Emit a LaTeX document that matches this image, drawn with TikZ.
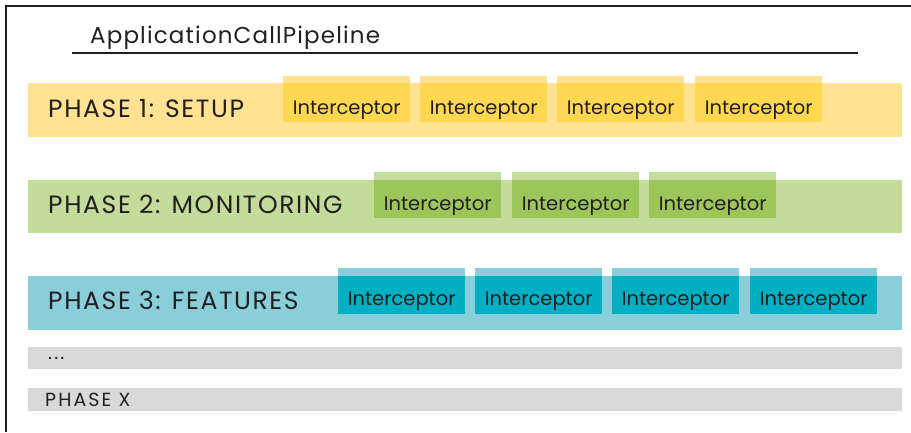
\documentclass[tikz,border=0pt]{standalone}
\usepackage{fontspec}
\setmainfont{Poppins}
\definecolor{ylight}{HTML}{FFE392}
\definecolor{ydark}{HTML}{FFD751}
\definecolor{glight}{HTML}{C4DC9B}
\definecolor{gdark}{HTML}{9CC65A}
\definecolor{tlight}{HTML}{89CED8}
\definecolor{tdark}{HTML}{00B0C2}
\definecolor{graybar}{HTML}{D9D9D9}
\definecolor{ink}{HTML}{231F20}
\tikzset{
  band/.style={draw=none, inner sep=0pt, anchor=north west, minimum width=874pt, minimum height=#1},
  ibox/.style={draw=none, inner sep=0pt, anchor=north west, minimum width=127pt, minimum height=46pt},
  phasetext/.style={anchor=base west, inner sep=0pt, text=ink, font=\fontsize{25}{28}\selectfont\addfontfeature{LetterSpace=6.5}},
  itext/.style={anchor=base, inner sep=0pt, text=ink, font=\fontsize{19.5}{23}\selectfont},
  smalltext/.style={anchor=base west, inner sep=0pt, text=ink, font=\fontsize{19}{22}\selectfont\addfontfeature{LetterSpace=11}},
}
\begin{document}
\begin{tikzpicture}[x=1pt,y=-1pt]
\useasboundingbox (0,0) rectangle (911,432);
% frame
\coordinate (fr1) at (911,6);
\coordinate (fr2) at (6,6);
\coordinate (fr3) at (6,432);
\draw[line width=2pt, ink] (fr1) -- (fr2) -- (fr3);
% title
\node[anchor=base west, inner sep=0pt, text=ink, font=\fontsize{23}{26}\selectfont\addfontfeature{LetterSpace=5}] (title) at (90,43) {ApplicationCallPipeline};
\coordinate (ul1) at (72,53);
\coordinate (ul2) at (858,53);
\draw[line width=2pt, ink] (ul1) -- (ul2);
% bands
\node[band=54pt, fill=ylight] (p1) at (28,83) {};
\node[band=53pt, fill=glight] (p2) at (28,180) {};
\node[band=54pt, fill=tlight] (p3) at (28,276) {};
\node[band=22pt, fill=graybar] (p4) at (28,347) {};
\node[band=23pt, fill=graybar] (p5) at (28,388) {};
% phase labels
\node[phasetext] (l1) at (48,117) {PHASE 1: SETUP};
\node[phasetext] (l2) at (48,213) {PHASE 2: MONITORING};
\node[phasetext] (l3) at (48,309) {PHASE 3: FEATURES};
\node[smalltext] (l4) at (48,359) {...};
\node[smalltext] (l5) at (45,406) {PHASE X};
% interceptors phase 1
\foreach \x [count=\i] in {283,420,557,695}{
  \node[ibox, fill=ylight] (a\i) at (\x,76) {};
  \fill[ydark] (a\i.south west) rectangle (a\i.east |- p1.north);
  \node[itext] (ta\i) at (a\i.center |- 0,114) {Interceptor};
}
% phase 2
\foreach \x [count=\i] in {374,512,649}{
  \node[ibox, fill=glight] (b\i) at (\x,172) {};
  \fill[gdark] (b\i.south west) rectangle (b\i.east |- p2.north);
  \node[itext] (tb\i) at (b\i.center |- 0,210) {Interceptor};
}
% phase 3
\foreach \x [count=\i] in {338,475,612,750}{
  \node[ibox, fill=tlight] (c\i) at (\x,268) {};
  \fill[tdark] (c\i.south west) rectangle (c\i.east |- p3.north);
  \node[itext] (tc\i) at (c\i.center |- 0,305) {Interceptor};
}
\end{tikzpicture}
\end{document}
